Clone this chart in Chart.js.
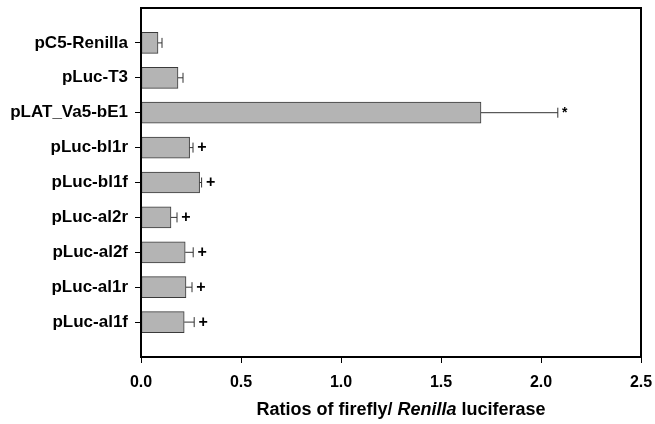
<!DOCTYPE html>
<html>
<head>
<meta charset="utf-8">
<script src="https://cdn.jsdelivr.net/npm/chart.js@4"></script>
<style>
  html, body { margin: 0; padding: 0; background: #fff; }
  #wrap { width: 655px; height: 424px; }
</style>
</head>
<body>
<div id="wrap"><canvas id="myChart"></canvas></div>
<script>
// constructs, top to bottom
var constructs = ['pC5-Renilla', 'pLuc-T3', 'pLAT_Va5-bE1', 'pLuc-bl1r', 'pLuc-bl1f',
                  'pLuc-al2r', 'pLuc-al2f', 'pLuc-al1r', 'pLuc-al1f'];
var ratios = [0.085, 0.185, 1.70, 0.243, 0.293, 0.150, 0.221, 0.225, 0.216];
var errors = [0.020, 0.025, 0.384, 0.017, 0.010, 0.030, 0.040, 0.030, 0.050];
var marks  = ['', '', '*', '+', '+', '+', '+', '+', '+'];
var xTickLabels = ['0.0', '0.5', '1.0', '1.5', '2.0', '2.5'];

var FONT = '"Liberation Sans", Arial, sans-serif';

// empty slot above and below so the bars sit like the original
var labels = [''].concat(constructs).concat(['']);
var values = [null].concat(ratios).concat([null]);
var errs = [null].concat(errors).concat([null]);
var stars = [''].concat(marks).concat(['']);

/* error bars, significance marks, frame and axis title */
var extras = {
	id: 'extras',
	afterDatasetsDraw: function(chart) {
		var ctx = chart.ctx;
		var xs = chart.scales.x, ys = chart.scales.y;
		ctx.save();
		for (var i = 0; i < values.length; i++) {
			if (values[i] === null) continue;
			var y = ys.getPixelForValue(i);
			var x0 = xs.getPixelForValue(values[i]);
			var x1 = xs.getPixelForValue(values[i] + errs[i]);
			ctx.strokeStyle = '#333';
			ctx.lineWidth = 1;
			ctx.beginPath();
			ctx.moveTo(x0, y); ctx.lineTo(x1, y);
			ctx.moveTo(x1, y - 5); ctx.lineTo(x1, y + 5);
			ctx.stroke();
			if (stars[i]) {
				ctx.fillStyle = '#000';
				ctx.textAlign = 'center';
				ctx.textBaseline = 'middle';
				if (stars[i] === '*') {
					ctx.font = 'bold 14px ' + FONT;
					ctx.fillText(stars[i], x1 + 7, y);
				} else {
					ctx.font = 'bold 16px ' + FONT;
					ctx.fillText(stars[i], x1 + 9, y);
				}
			}
		}
		ctx.restore();
	},
	afterDraw: function(chart) {
		var ctx = chart.ctx;
		var a = chart.chartArea;
		ctx.save();
		ctx.strokeStyle = '#000';
		ctx.lineWidth = 2;
		ctx.strokeRect(a.left, a.top, a.right - a.left, a.bottom - a.top);

		// axis title with italic Renilla
		var parts = [['bold ', 'Ratios of firefly/ '], ['italic bold ', 'Renilla'], ['bold ', ' luciferase']];
		var total = 0;
		parts.forEach(function(p) { ctx.font = p[0] + '18px ' + FONT; total += ctx.measureText(p[1]).width; });
		var x = (a.left + a.right) / 2 + 10 - total / 2;
		var y = a.bottom + 53;
		ctx.fillStyle = '#000';
		ctx.textAlign = 'left';
		ctx.textBaseline = 'middle';
		parts.forEach(function(p) {
			ctx.font = p[0] + '18px ' + FONT;
			ctx.fillText(p[1], x, y);
			x += ctx.measureText(p[1]).width;
		});
		ctx.restore();
	}
};

var ctx = document.getElementById('myChart').getContext('2d');
var myChart = new Chart(ctx, {
	type: 'bar',
	data: {
		labels: labels,
		datasets: [{
			data: values,
			backgroundColor: '#b4b4b4',
			borderColor: '#3a3a3a',
			borderWidth: 1,
			borderSkipped: false,
			barThickness: 21
		}]
	},
	options: {
		indexAxis: 'y',
		responsive: true,
		maintainAspectRatio: false,
		animation: false,
		layout: { padding: { top: 8, right: 14, left: 0, bottom: 0 } },
		plugins: {
			legend: { display: false },
			tooltip: { enabled: false }
		},
		scales: {
			x: {
				min: 0,
				max: 2.5,
				border: { display: false },
				grid: { drawOnChartArea: false, drawTicks: true, tickLength: 6, tickColor: '#000', lineWidth: 1 },
				ticks: {
					stepSize: 0.5,
					padding: 10,
					color: '#000',
					font: { family: FONT, size: 16, weight: 'bold' },
					callback: function(v, i) { return xTickLabels[i]; }
				},
				afterFit: function(s) { s.height = 67; s.paddingLeft = 0; s.paddingRight = 0; }
			},
			y: {
				offset: false,
				border: { display: false },
				grid: {
					offset: false,
					drawOnChartArea: false,
					tickLength: 6,
					lineWidth: 1,
					tickColor: function(c) { return (c.index === 0 || c.index === labels.length - 1) ? 'rgba(0,0,0,0)' : '#000'; }
				},
				ticks: {
					autoSkip: false,
					padding: 7,
					color: '#000',
					font: { family: FONT, size: 17, weight: 'bold' }
				},
				afterFit: function(s) { s.width = 141; s.paddingTop = 0; s.paddingBottom = 0; }
			}
		}
	},
	plugins: [extras]
});
</script>
</body>
</html>
